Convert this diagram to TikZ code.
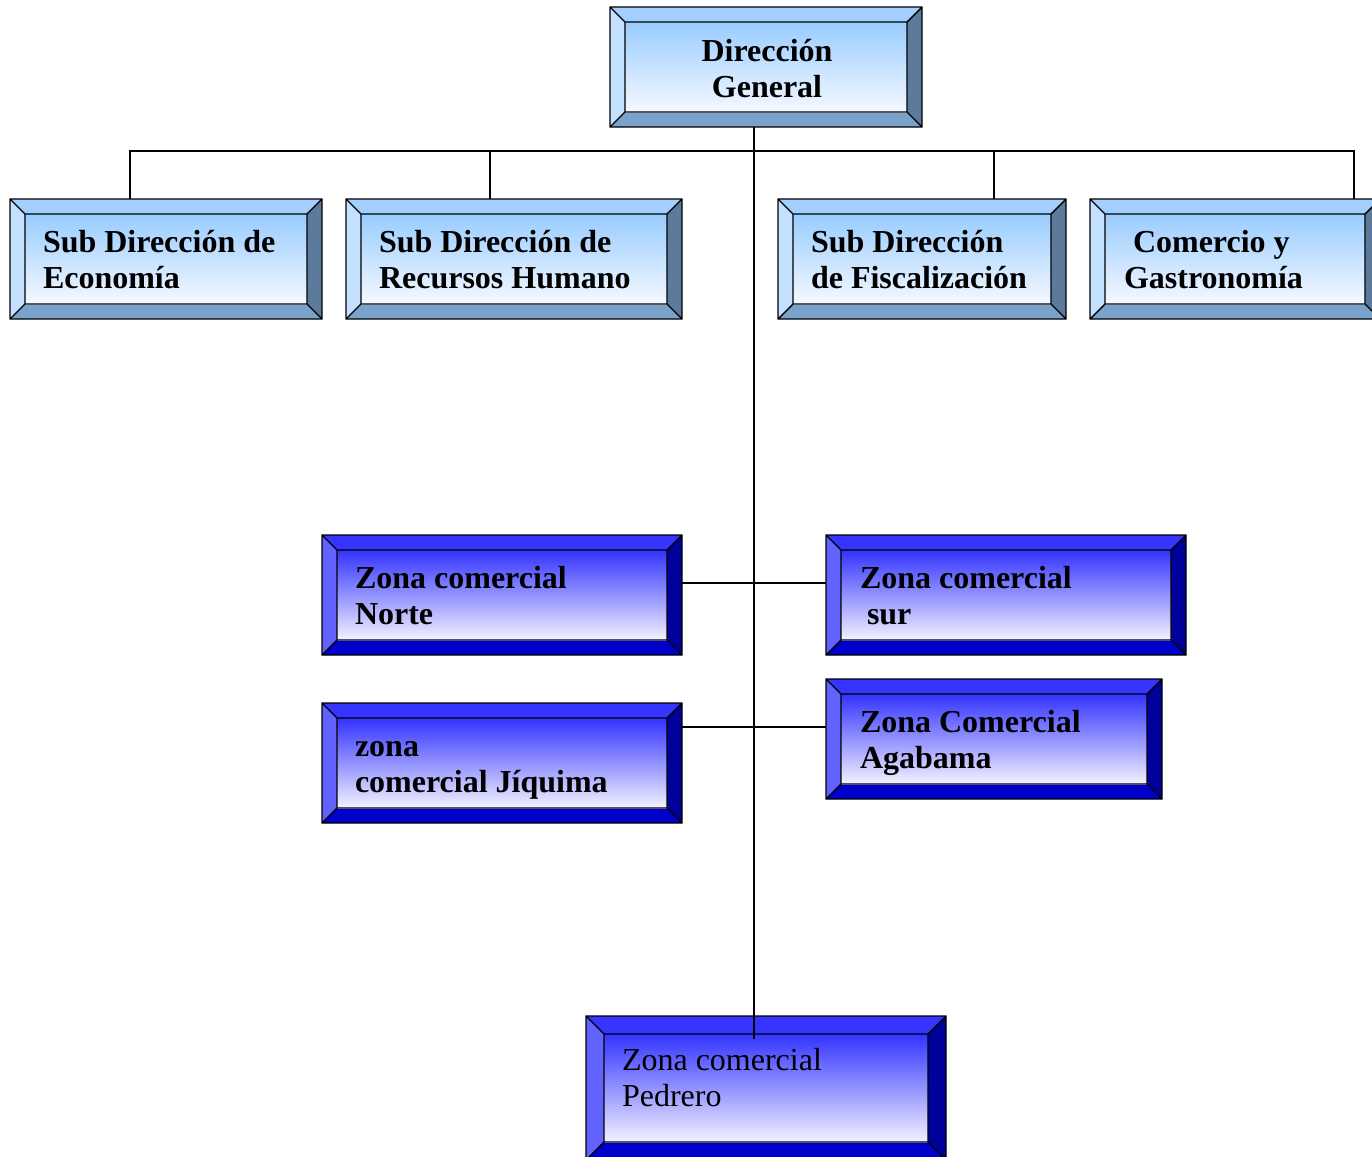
\documentclass[tikz,border=0pt]{standalone}
\usepackage{fontspec}
\setmainfont{Liberation Serif}
\usetikzlibrary{fit}
% light palette
\definecolor{Ltop}{HTML}{A3CFFF}
\definecolor{Lleft}{HTML}{C4E0FF}
\definecolor{Lright}{HTML}{5C7B9C}
\definecolor{Lbot}{HTML}{7AA3CC}
\definecolor{Lgtop}{HTML}{99CCFF}
\definecolor{Lgbot}{HTML}{F4F9FF}
% dark palette
\definecolor{Dtop}{HTML}{3535FF}
\definecolor{Dleft}{HTML}{6262FF}
\definecolor{Dright}{HTML}{00009A}
\definecolor{Dbot}{HTML}{0000CC}
\definecolor{Dgtop}{HTML}{3333FF}
\definecolor{Dgbot}{HTML}{F2F2FF}
\tikzset{
  edge/.style={draw=black, line width=0.7pt, line join=miter},
  conn/.style={draw=black, line width=1pt},
  lab/.style={inner sep=0pt, outer sep=0pt, font=\fontsize{16}{18.25}\selectfont\bfseries},
  labr/.style={inner sep=0pt, outer sep=0pt, font=\fontsize{16}{18.25}\selectfont},
}
\newcommand\bevbox[7]{%
  \fill[#7top] (#2,#3) -- (#4,#3) -- (#4-#6,#3+#6) -- (#2+#6,#3+#6) -- cycle;
  \fill[#7left] (#2,#3) -- (#2+#6,#3+#6) -- (#2+#6,#5-#6) -- (#2,#5) -- cycle;
  \fill[#7right] (#4,#3) -- (#4,#5) -- (#4-#6,#5-#6) -- (#4-#6,#3+#6) -- cycle;
  \fill[#7bot] (#2,#5) -- (#4,#5) -- (#4-#6,#5-#6) -- (#2+#6,#5-#6) -- cycle;
  \shade[top color=#7gtop, bottom color=#7gbot] (#2+#6,#3+#6) rectangle (#4-#6,#5-#6);
  \draw[edge] (#2,#3) rectangle (#4,#5) (#2+#6,#3+#6) rectangle (#4-#6,#5-#6)
    (#2,#3) -- (#2+#6,#3+#6) (#4,#3) -- (#4-#6,#3+#6)
    (#2,#5) -- (#2+#6,#5-#6) (#4,#5) -- (#4-#6,#5-#6);
  \node[inner sep=0pt, outer sep=0pt, fit={(#2,#3) (#4,#5)}] (#1) {};
}
\begin{document}
\begin{tikzpicture}[x=0.5pt, y=-0.5pt]
\useasboundingbox (0,0) rectangle (1372,1157);
% boxes
\bevbox{dg}{610}{7}{922}{127}{15}{L}
\bevbox{eco}{10}{199}{322}{319}{15}{L}
\bevbox{rh}{346}{199}{682}{319}{15}{L}
\bevbox{fis}{778}{199}{1066}{319}{15}{L}
\bevbox{com}{1090}{199}{1380}{319}{15}{L}
\bevbox{nor}{322}{535}{682}{655}{15}{D}
\bevbox{sur}{826}{535}{1186}{655}{15}{D}
\bevbox{jiq}{322}{703}{682}{823}{15}{D}
\bevbox{aga}{826}{679}{1162}{799}{15}{D}
\bevbox{ped}{586}{1016}{946}{1160}{18}{D}
% labels
\node[lab, anchor=base] (dg-t) at (767,61) {\begin{tabular}[t]{@{}c@{}}Dirección\\General\end{tabular}};
\node[lab, anchor=base west] (eco-t) at (43,252) {\begin{tabular}[t]{@{}l@{}}Sub Dirección de\\Economía\end{tabular}};
\node[lab, anchor=base west] (rh-t) at (379,252) {\begin{tabular}[t]{@{}l@{}}Sub Dirección de\\Recursos Humano\end{tabular}};
\node[lab, anchor=base west] (fis-t) at (811,252) {\begin{tabular}[t]{@{}l@{}}Sub Dirección\\de Fiscalización\end{tabular}};
\node[lab, anchor=base west] (com-t) at (1124,252) {\begin{tabular}[t]{@{}l@{}}\hspace{4.5pt}Comercio y\\Gastronomía\end{tabular}};
\node[lab, anchor=base west] (nor-t) at (355,588) {\begin{tabular}[t]{@{}l@{}}Zona comercial\\Norte\end{tabular}};
\node[lab, anchor=base west] (sur-t) at (860,588) {\begin{tabular}[t]{@{}l@{}}Zona comercial\\\hspace{3.5pt}sur\end{tabular}};
\node[lab, anchor=base west] (jiq-t) at (355,756) {\begin{tabular}[t]{@{}l@{}}zona\\comercial Jíquima\end{tabular}};
\node[lab, anchor=base west] (aga-t) at (860,732) {\begin{tabular}[t]{@{}l@{}}Zona Comercial\\Agabama\end{tabular}};
\node[labr, anchor=base west] (ped-t) at (622,1070) {\begin{tabular}[t]{@{}l@{}}Zona comercial\\Pedrero\end{tabular}};
% connector coordinates
\coordinate (b1) at (130,151);
\coordinate (b2) at (490,151);
\coordinate (b3) at (994,151);
\coordinate (b4) at (1354,151);
\coordinate (tr) at (754,151);
\coordinate (tend) at (754,1039);
\coordinate (h1) at (754,583);
\coordinate (h2) at (754,727);
% connectors
\draw[conn] (b1 |- eco.north) -- (b1) -- (b4) -- (b4 |- com.north);
\draw[conn] (b2) -- (b2 |- rh.north);
\draw[conn] (b3) -- (b3 |- fis.north);
\draw[conn] (tr |- dg.south) -- (tend);
\draw[conn] (h1 -| nor.east) -- (h1 -| sur.west);
\draw[conn] (h2 -| jiq.east) -- (h2 -| aga.west);
\end{tikzpicture}
\end{document}
